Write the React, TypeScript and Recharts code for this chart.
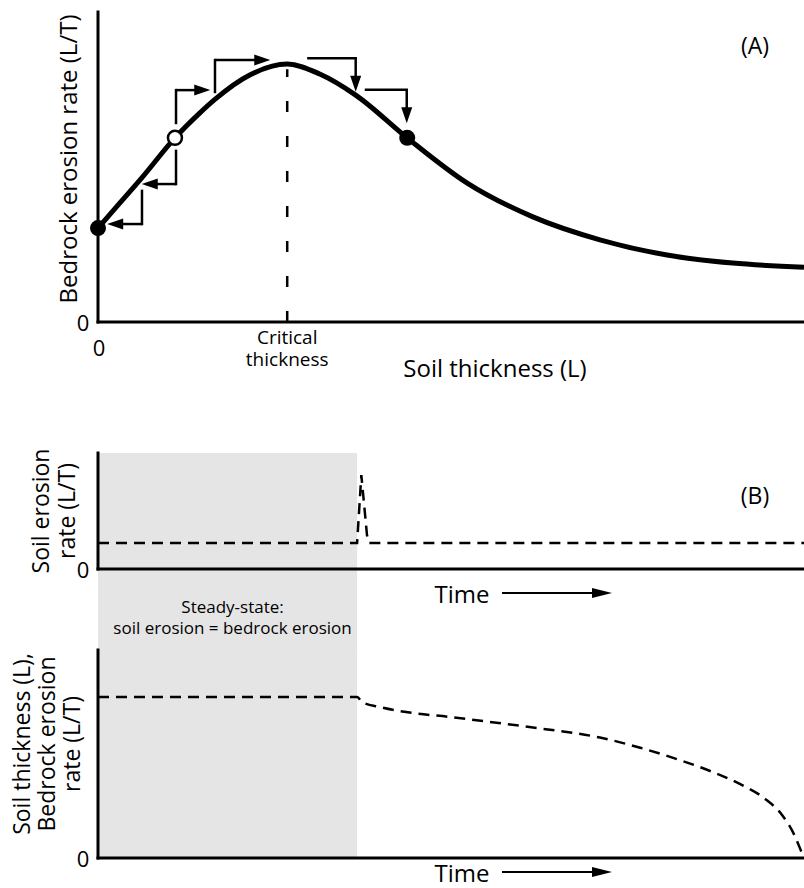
import React from 'react';
import {
  ComposedChart,
  Line,
  Scatter,
  XAxis,
  YAxis,
  ReferenceLine,
  ReferenceArea,
} from 'recharts';

const FONT = '"Open Sans", "Noto Sans", "DejaVu Sans", sans-serif';

// ---------- Panel (A): bedrock erosion rate vs soil thickness ----------
const soilThickness = [0, 3.1, 6.2, 10.9, 14.4, 16.6, 21.5, 26.8, 31.4, 36.5, 43.8, 52.3, 61.6, 71.1, 80.6, 89.9, 100];
const bedrockErosionRate = [30.3, 38.4, 46.5, 59.4, 67.4, 71.9, 79.7, 83.2, 80.0, 73.2, 59.4, 44.8, 33.9, 26.5, 21.6, 19.0, 17.7];
const criticalThickness = 26.8;
const criticalLineTop = 81.5;
const equilibriumX = [0, 10.9, 43.8];
const equilibriumY = [30.3, 59.4, 59.4];
const equilibriumStable = [true, false, true];
// perturbation arrows: [start, corner, tip] in (thickness, rate) units
const arrowPaths: [number, number][][] = [
  [[6.23, 42.3], [6.23, 31.6], [1.3, 31.6]],
  [[11.05, 55.2], [11.05, 44.5], [6.2, 44.5]],
  [[11.05, 64.2], [11.05, 74.8], [15.9, 74.8]],
  [[16.57, 74.2], [16.57, 84.5], [24.4, 84.5]],
  [[29.8, 85.1], [36.5, 85.1], [36.5, 74.3]],
  [[37.96, 74.9], [43.73, 74.9], [43.73, 64.1]],
];
const thicknessTicks = [0, criticalThickness];

// ---------- Panel (B): time series ----------
const steadyStateEnd = 36.7;
const timeTop = [0, 36.7, 37.3, 38.1, 38.4, 100];
const soilErosionRate = [22.4, 22.4, 81.0, 29.3, 22.4, 22.4];
const timeBottom = [0, 36.7, 37.4, 39.9, 44.6, 49.9, 55.5, 62.6, 71.1, 76.8, 82.4, 87.1, 90.9, 94.5, 97.0, 98.7, 99.7, 100];
const thicknessOverTime = [77.4, 77.4, 75.0, 72.6, 69.7, 67.8, 65.4, 62.3, 57.9, 53.0, 47.1, 41.3, 35.6, 28.4, 20.2, 10.6, 2.4, 0];

const panelAData = soilThickness.map((x, i) => ({ x, y: bedrockErosionRate[i] }));
const equilibria = equilibriumX.map((x, i) => ({ x, y: equilibriumY[i], stable: equilibriumStable[i] }));
const panelBTopData = timeTop.map((t, i) => ({ t, v: soilErosionRate[i] }));
const panelBBottomData = timeBottom.map((t, i) => ({ t, v: thicknessOverTime[i] }));

const axisLineStyle = { stroke: '#000', strokeWidth: 3, strokeLinecap: 'square' as const };

const arrowHead = (p: any) => {
  const { x1, y1, x2, y2 } = p;
  const dx = x2 - x1;
  const dy = y2 - y1;
  const len = Math.hypot(dx, dy) || 1;
  const ux = dx / len;
  const uy = dy / len;
  const L = 16;
  const W = 5.5;
  const bx = x2 - ux * L;
  const by = y2 - uy * L;
  const pts = `${x2},${y2} ${bx - uy * W},${by + ux * W} ${bx + uy * W},${by - ux * W}`;
  return (
    <g>
      <line x1={x1} y1={y1} x2={bx + ux * 2} y2={by + uy * 2} stroke="#000" strokeWidth={2.5} />
      <polygon points={pts} fill="#000" />
    </g>
  );
};

const renderEquilibrium = (p: any) => {
  const { cx, cy, payload } = p;
  if (payload && payload.stable) return <circle cx={cx} cy={cy} r={8} fill="#000" />;
  return <circle cx={cx} cy={cy} r={7} fill="#fff" stroke="#000" strokeWidth={2.5} />;
};

const renderThicknessTick = (p: any) => {
  const { x, y, payload } = p;
  if (payload.value === 0) {
    return (
      <text x={x + 1} y={y + 25} textAnchor="middle" dominantBaseline="central" fontSize={22} fontFamily={FONT} fill="#000">
        0
      </text>
    );
  }
  return (
    <text textAnchor="middle" fontSize={19} fontFamily={FONT} fill="#000">
      <tspan x={x} y={y + 22}>Critical</tspan>
      <tspan x={x} y={y + 44}>thickness</tspan>
    </text>
  );
};

const renderZeroY = (p: any) => {
  const { x, y } = p;
  return (
    <text x={x - 15} y={y} textAnchor="middle" dominantBaseline="central" fontSize={22} fontFamily={FONT} fill="#000">
      0
    </text>
  );
};

const panelAXLabel = (p: any) => {
  const vb = p.viewBox;
  return (
    <g>
      <text x={vb.x + 397} y={vb.y + 45} textAnchor="middle" dominantBaseline="central" fontSize={24} fontFamily={FONT} fill="#000">
        Soil thickness (L)
      </text>
      <text x={vb.x + 657} y={vb.y - 277} textAnchor="middle" dominantBaseline="central" fontSize={23} fontFamily={FONT} fill="#000">
        (A)
      </text>
    </g>
  );
};

const rotatedLines = (vb: any, xs: number[], cy: number, lines: string[], size: number) => (
  <g>
    {lines.map((s, i) => (
      <text
        key={i}
        transform={`translate(${vb.x + xs[i]}, ${vb.y + cy}) rotate(-90)`}
        textAnchor="middle"
        dominantBaseline="central"
        fontSize={size}
        fontFamily={FONT}
        fill="#000"
      >
        {s}
      </text>
    ))}
  </g>
);

const panelAYLabel = (p: any) => rotatedLines(p.viewBox, [67], 147, ['Bedrock erosion rate (L/T)'], 24);
const panelBTopYLabel = (p: any) => rotatedLines(p.viewBox, [40, 66], 58, ['Soil erosion', 'rate (L/T)'], 23);
const panelBBottomYLabel = (p: any) =>
  rotatedLines(p.viewBox, [21, 46, 71], 94, ['Soil thickness (L),', 'Bedrock erosion', 'rate (L/T)'], 23);

const timeLabel = (vb: any, dy: number) => {
  const y = vb.y + dy;
  const x0 = vb.x + 404;
  const x1 = vb.x + 514;
  return (
    <g>
      <text x={vb.x + 364} y={y} textAnchor="middle" dominantBaseline="central" fontSize={24} fontFamily={FONT} fill="#000">
        Time
      </text>
      <line x1={x0} y1={y} x2={x1 - 16} y2={y} stroke="#000" strokeWidth={2} />
      <polygon points={`${x1},${y} ${x1 - 20},${y - 5} ${x1 - 20},${y + 5}`} fill="#000" />
    </g>
  );
};

const panelBTopXLabel = (p: any) => {
  const vb = p.viewBox;
  return (
    <g>
      {timeLabel(vb, 24)}
      <text x={vb.x + 657} y={vb.y - 74} textAnchor="middle" dominantBaseline="central" fontSize={23} fontFamily={FONT} fill="#000">
        (B)
      </text>
    </g>
  );
};
const panelBBottomXLabel = (p: any) => timeLabel(p.viewBox, 14);

const steadyStateLabel = (p: any) => {
  const vb = p.viewBox;
  const cx = vb.x + vb.width / 2 + 5;
  return (
    <g>
      <text x={cx} y={vb.y + 153} textAnchor="middle" dominantBaseline="central" fontSize={17} fontFamily={FONT} fill="#000">
        Steady-state:
      </text>
      <text x={cx} y={vb.y + 174} textAnchor="middle" dominantBaseline="central" fontSize={17} fontFamily={FONT} fill="#000">
        soil erosion = bedrock erosion
      </text>
    </g>
  );
};

export default function App() {
  return (
    <div style={{ position: 'absolute', left: 0, top: 0, width: 804, height: 888, background: '#fff', fontFamily: FONT, overflow: 'hidden' }}>
      {/* Panel A */}
      <div style={{ position: 'absolute', left: 0, top: 0 }}>
        <ComposedChart width={804} height={390} data={panelAData} margin={{ top: 12, right: 0, bottom: 0, left: 0 }}>
          <XAxis
            dataKey="x"
            type="number"
            domain={[0, 100]}
            ticks={thicknessTicks}
            interval={0}
            height={68}
            axisLine={axisLineStyle}
            tickLine={false}
            tickSize={0}
            tickMargin={0}
            tick={renderThicknessTick}
            label={{ content: panelAXLabel }}
          />
          <YAxis
            type="number"
            domain={[0, 100]}
            ticks={[0]}
            width={98}
            axisLine={axisLineStyle}
            tickLine={false}
            tickSize={0}
            tickMargin={0}
            tick={renderZeroY}
            label={{ content: panelAYLabel }}
          />
          <ReferenceLine
            segment={[{ x: criticalThickness, y: 0 }, { x: criticalThickness, y: criticalLineTop }]}
            stroke="#000"
            strokeWidth={2.5}
            strokeDasharray="11 24"
          />
          <Line dataKey="y" type="monotone" stroke="#000" strokeWidth={5} dot={false} activeDot={false} isAnimationActive={false} />
          {arrowPaths.map((pts, i) => (
            <ReferenceLine
              key={`a1-${i}`}
              segment={[{ x: pts[0][0], y: pts[0][1] }, { x: pts[1][0], y: pts[1][1] }]}
              stroke="#000"
              strokeWidth={2.5}
              strokeLinecap="square"
            />
          ))}
          {arrowPaths.map((pts, i) => (
            <ReferenceLine
              key={`a2-${i}`}
              segment={[{ x: pts[1][0], y: pts[1][1] }, { x: pts[2][0], y: pts[2][1] }]}
              stroke="#000"
              strokeWidth={2.5}
              shape={arrowHead}
            />
          ))}
          <Scatter data={equilibria} dataKey="y" shape={renderEquilibrium} isAnimationActive={false} />
        </ComposedChart>
      </div>

      {/* Panel B top: soil erosion rate */}
      <div style={{ position: 'absolute', left: 0, top: 440 }}>
        <ComposedChart width={804} height={230} data={panelBTopData} margin={{ top: 13, right: 0, bottom: 0, left: 0 }}>
          <ReferenceArea
            x1={0}
            x2={steadyStateEnd}
            y1={-71}
            y2={100}
            ifOverflow="visible"
            fill="#e5e5e5"
            fillOpacity={1}
            stroke="none"
            label={{ content: steadyStateLabel }}
          />
          <XAxis
            dataKey="t"
            type="number"
            domain={[0, 100]}
            height={101}
            axisLine={axisLineStyle}
            tickLine={false}
            tick={false}
            label={{ content: panelBTopXLabel }}
          />
          <YAxis
            type="number"
            domain={[0, 100]}
            ticks={[0]}
            width={98}
            axisLine={axisLineStyle}
            tickLine={false}
            tickSize={0}
            tickMargin={0}
            tick={renderZeroY}
            label={{ content: panelBTopYLabel }}
          />
          <Line dataKey="v" type="linear" stroke="#000" strokeWidth={2.5} strokeDasharray="11 7" dot={false} activeDot={false} isAnimationActive={false} />
        </ComposedChart>
      </div>

      {/* Panel B bottom: soil thickness / bedrock erosion rate */}
      <div style={{ position: 'absolute', left: 0, top: 640 }}>
        <ComposedChart width={804} height={248} data={panelBBottomData} margin={{ top: 10, right: 0, bottom: 0, left: 0 }}>
          <ReferenceArea x1={0} x2={steadyStateEnd} y1={0} y2={100} fill="#e5e5e5" fillOpacity={1} stroke="none" />
          <XAxis
            dataKey="t"
            type="number"
            domain={[0, 100]}
            height={30}
            axisLine={axisLineStyle}
            tickLine={false}
            tick={false}
            label={{ content: panelBBottomXLabel }}
          />
          <YAxis
            type="number"
            domain={[0, 100]}
            ticks={[0]}
            width={98}
            axisLine={axisLineStyle}
            tickLine={false}
            tickSize={0}
            tickMargin={0}
            tick={renderZeroY}
            label={{ content: panelBBottomYLabel }}
          />
          <Line dataKey="v" type="monotone" stroke="#000" strokeWidth={2.5} strokeDasharray="11 7" dot={false} activeDot={false} isAnimationActive={false} />
        </ComposedChart>
      </div>
    </div>
  );
}
